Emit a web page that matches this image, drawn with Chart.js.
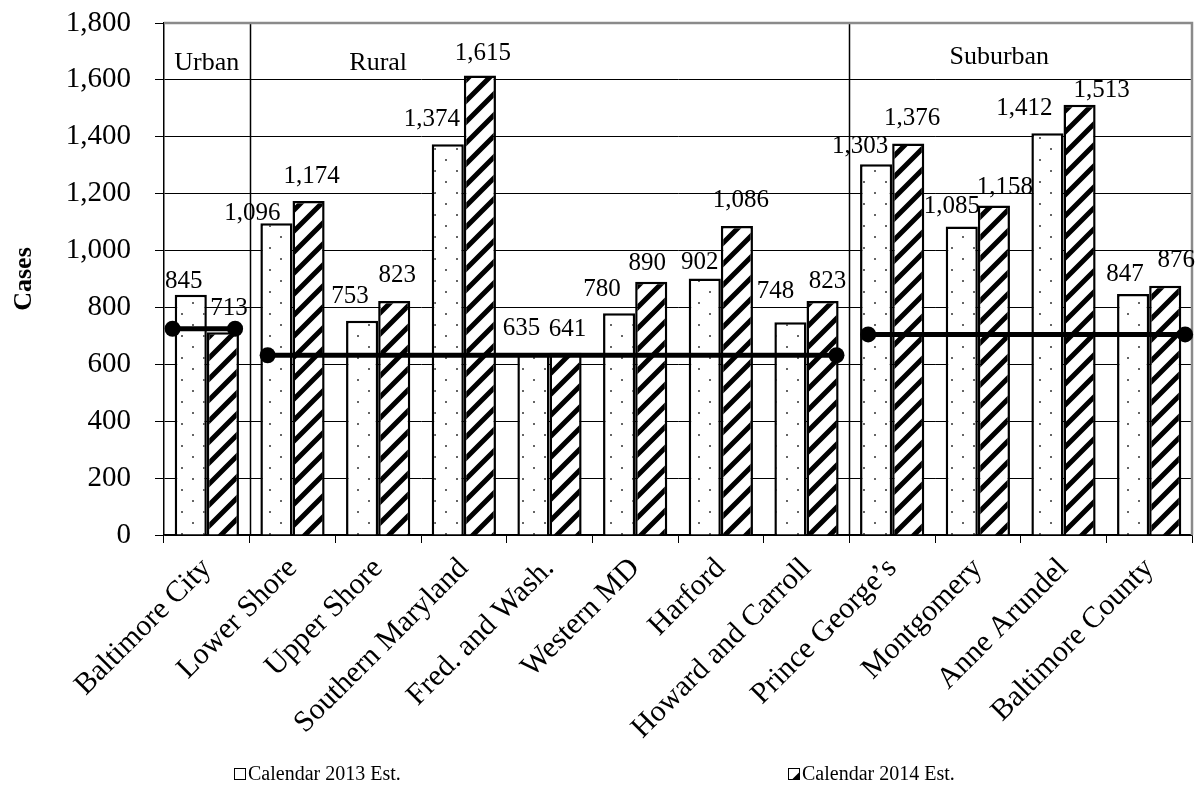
<!DOCTYPE html>
<html>
<head>
<meta charset="utf-8">
<title>Cases by Region</title>
<script src="https://cdn.jsdelivr.net/npm/chart.js@4/dist/chart.umd.min.js"></script>
<style>
    body { margin: 0; background: #fff; }
    #chart { display: block; }
</style>
</head>
<body>
<canvas id="chart" width="1202" height="789"></canvas>
<script>
// Jurisdictions along the x axis
const categories = ['Baltimore City', 'Lower Shore', 'Upper Shore', 'Southern Maryland',
    'Fred. and Wash.', 'Western MD', 'Harford', 'Howard and Carroll',
    'Prince George\u2019s', 'Montgomery', 'Anne Arundel', 'Baltimore County'];

// Estimated cases per calendar year
const est2013 = [845, 1096, 753, 1374, 635, 780, 902, 748, 1303, 1085, 1412, 847];
const est2014 = [713, 1174, 823, 1615, 641, 890, 1086, 823, 1376, 1158, 1513, 876];

// Region groups and their reference line level (x given in category units)
const regionNames = ['Urban', 'Rural', 'Suburban'];
const regionAvg = [725, 632, 705];
const regionLineStart = [-0.4, 0.71, 7.72];
const regionLineEnd = [0.33, 7.35, 11.42];
const regionLabelAt = [0, 2, 9.25];
const regionBreaks = [0.5, 7.5];

// Y axis ticks
const yTicks = [0, 200, 400, 600, 800, 1000, 1200, 1400, 1600, 1800];

// Label nudges (x shift and gap above the bar, in px)
const labelDx = [
    [-7, -24, -12, -16, -12, -17, -5, -15, -16, -10, -23, -8],
    [6, 3, 3, 3, 2, -4, 4, 5, 4, 11, 22, 11]
];
const labelGap = [
    [7, 3, 18, 18, 19, 17, 9, 24, 11, 13, 18, 13],
    [17, 18, 19, 16, 17, 12, 19, 13, 19, 12, 8, 19]
];

const serif = '"Liberation Serif", "Times New Roman", serif';
const fmt = v => v.toLocaleString('en-US');

// Fill patterns: grey dots and black diagonal hatch
function dotPattern() {
    const c = document.createElement('canvas');
    c.width = 22; c.height = 22;
    const g = c.getContext('2d');
    g.fillStyle = '#fff';
    g.fillRect(0, 0, 22, 22);
    g.fillStyle = '#666';
    g.fillRect(5, 5, 2, 2);
    g.fillRect(16, 16, 2, 2);
    return g.createPattern(c, 'repeat');
}

function hatchPattern() {
    const p = 21;
    const c = document.createElement('canvas');
    c.width = p; c.height = p;
    const g = c.getContext('2d');
    g.fillStyle = '#fff';
    g.fillRect(0, 0, p, p);
    g.strokeStyle = '#000';
    g.lineWidth = 5;
    g.beginPath();
    g.moveTo(-p, p); g.lineTo(p, -p);
    g.moveTo(0, p); g.lineTo(p, 0);
    g.moveTo(0, 2 * p); g.lineTo(2 * p, 0);
    g.stroke();
    return g.createPattern(c, 'repeat');
}

// Separators, frame, region lines and names, value labels and legend
const decorations = {
    id: 'decorations',
    beforeDatasetsDraw(chart) {
        const ctx = chart.ctx;
        const area = chart.chartArea;
        const xs = chart.scales.x;
        ctx.save();
        ctx.strokeStyle = '#000';
        ctx.lineWidth = 1.5;
        regionBreaks.forEach(b => {
            const x = Math.round(xs.getPixelForValue(b)) + 0.5;
            ctx.beginPath();
            ctx.moveTo(x, area.top);
            ctx.lineTo(x, area.bottom);
            ctx.stroke();
        });
        ctx.restore();
    },
    afterDatasetsDraw(chart) {
        const ctx = chart.ctx;
        const area = chart.chartArea;
        const xs = chart.scales.x;
        const ys = chart.scales.y;
        ctx.save();

        // grey frame on top and right
        ctx.strokeStyle = '#8a8a8a';
        ctx.lineWidth = 2.5;
        ctx.beginPath();
        ctx.moveTo(area.left, area.top);
        ctx.lineTo(area.right, area.top);
        ctx.lineTo(area.right, area.bottom);
        ctx.stroke();

        // region reference lines with end dots
        ctx.strokeStyle = '#000';
        ctx.fillStyle = '#000';
        ctx.lineWidth = 5;
        regionNames.forEach((name, i) => {
            const x1 = xs.getPixelForValue(regionLineStart[i]);
            const x2 = xs.getPixelForValue(regionLineEnd[i]);
            const y = ys.getPixelForValue(regionAvg[i]);
            ctx.beginPath();
            ctx.moveTo(x1, y);
            ctx.lineTo(x2, y);
            ctx.stroke();
            [x1, x2].forEach(x => {
                ctx.beginPath();
                ctx.arc(x, y, 8, 0, Math.PI * 2);
                ctx.fill();
            });
        });

        // region names
        ctx.font = '26px ' + serif;
        ctx.textAlign = 'center';
        ctx.textBaseline = 'alphabetic';
        regionNames.forEach((name, i) => {
            const y = area.top + (i === 2 ? 41 : 47);
            ctx.fillText(name, xs.getPixelForValue(regionLabelAt[i]), y);
        });

        // value labels above the bars
        ctx.font = '25px ' + serif;
        [0, 1].forEach(d => {
            const meta = chart.getDatasetMeta(d);
            meta.data.forEach((bar, i) => {
                const v = chart.data.datasets[d].data[i];
                ctx.fillText(fmt(v), bar.x + labelDx[d][i], bar.y - labelGap[d][i]);
            });
        });

        // legend
        const legendX = [234, 788];
        const legendY = 774;
        ctx.font = '20px ' + serif;
        ctx.textAlign = 'left';
        ctx.textBaseline = 'middle';
        [0, 1].forEach(d => {
            const ds = chart.data.datasets[d];
            const x = legendX[d];
            ctx.fillStyle = ds.backgroundColor;
            ctx.fillRect(x, legendY - 6, 12, 12);
            ctx.strokeStyle = '#000';
            ctx.lineWidth = 1;
            ctx.strokeRect(x + 0.5, legendY - 5.5, 11, 11);
            ctx.fillStyle = '#000';
            ctx.fillText(ds.label, x + 14, legendY + 1);
        });
        ctx.restore();
    }
};

const ctx = document.getElementById('chart').getContext('2d');
new Chart(ctx, {
    type: 'bar',
    data: {
        labels: categories,
        datasets: [{
            label: 'Calendar 2013 Est.',
            data: est2013,
            backgroundColor: dotPattern(),
            borderColor: '#000',
            borderWidth: 2.5,
            categoryPercentage: 0.75,
            barPercentage: 1
        }, {
            label: 'Calendar 2014 Est.',
            data: est2014,
            backgroundColor: hatchPattern(),
            borderColor: '#000',
            borderWidth: 2.5,
            categoryPercentage: 0.75,
            barPercentage: 1
        }]
    },
    options: {
        responsive: false,
        animation: false,
        devicePixelRatio: 1,
        layout: { padding: { top: 23, right: 10, bottom: 0, left: 0 } },
        plugins: {
            legend: { display: false },
            tooltip: { enabled: false }
        },
        scales: {
            x: {
                type: 'category',
                offset: true,
                grid: { drawOnChartArea: false, drawTicks: true, tickLength: 8, color: '#000', offset: true },
                border: { color: '#000', width: 1.5 },
                ticks: {
                    minRotation: 45, maxRotation: 45, autoSkip: false,
                    padding: 8, color: '#000',
                    font: { family: serif, size: 30 }
                },
                afterFit: s => { s.height = 254; }
            },
            y: {
                min: 0,
                max: 1800,
                afterBuildTicks: s => { s.ticks = yTicks.map(v => ({ value: v })); },
                grid: { color: '#000', lineWidth: 1, tickLength: 9 },
                border: { color: '#000', width: 1.5 },
                ticks: {
                    padding: 24, color: '#000',
                    font: { family: serif, size: 29 },
                    callback: v => fmt(v)
                },
                title: {
                    display: true, text: 'Cases', color: '#000',
                    font: { family: serif, size: 26, weight: 'bold' },
                    padding: { top: 9, bottom: 0 }
                },
                // fixed axis width; the top label may overhang the plot
                afterFit: s => {
                    s.width = 164;
                    s.paddingTop = 0;
                    s.paddingBottom = 0;
                }
            }
        }
    },
    plugins: [decorations]
});
</script>
</body>
</html>
